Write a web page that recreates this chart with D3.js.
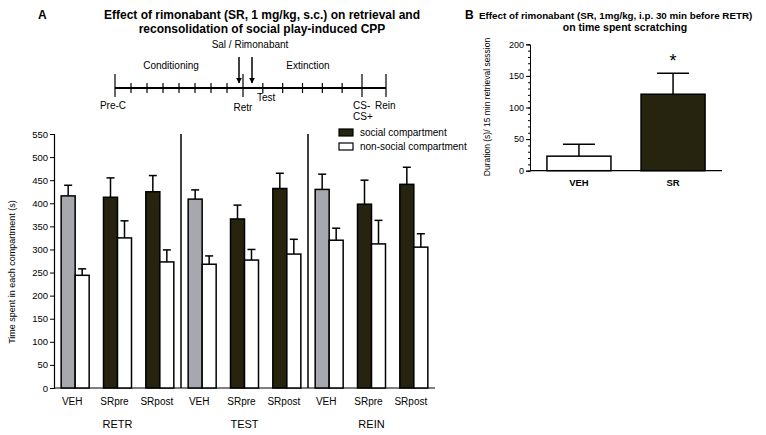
<!DOCTYPE html>
<html>
<head>
<meta charset="utf-8">
<script src="https://cdn.jsdelivr.net/npm/d3@7"></script>
<style>
  body { margin: 0; background: #fff; overflow: hidden; }
  svg { font-family: "Liberation Sans", Arial, sans-serif; }
</style>
</head>
<body>
<svg id="chart" width="766" height="435"></svg>
<script>
// panel A data
const groups = ["VEH", "SRpre", "SRpost", "VEH", "SRpre", "SRpost", "VEH", "SRpre", "SRpost"];
const phases = ["RETR", "TEST", "REIN"];
const social = [416, 413, 425, 409, 366, 432, 430, 398, 441];
const socialErr = [439, 455, 460, 429, 396, 465, 463, 450, 478];
const nonSocial = [244, 325, 273, 268, 277, 290, 320, 312, 305];
const nonSocialErr = [258, 362, 299, 286, 300, 322, 346, 363, 334];
const yTicksA = d3.range(0, 551, 50);

// panel B data
const scratchGroups = ["VEH", "SR"];
const scratch = [23, 121];
const scratchErr = [42, 154];

const gray = "#a7a7ae";
const dark = "#26240f";

const svg = d3.select("#chart");
const fs = "Liberation Sans, Arial, sans-serif";

// ---------- panel A ----------
svg.append("text").attr("x", 38).attr("y", 19).attr("font-size", 12).attr("font-weight", "bold").text("A");
svg.append("text").attr("x", 262).attr("y", 19).attr("text-anchor", "middle")
    .attr("font-size", 12).attr("font-weight", "bold")
    .text("Effect of rimonabant (SR, 1 mg/kg, s.c.) on retrieval and");
svg.append("text").attr("x", 262).attr("y", 33).attr("text-anchor", "middle")
    .attr("font-size", 12).attr("font-weight", "bold")
    .text("reconsolidation of social play-induced CPP");

// timeline
const tl = d3.scaleLinear().domain([0, 8, 14, 15]).range([115, 243, 362, 386]);
const tlY = 88;
const major = [0, 8, 14, 15];
const minor = [1, 2, 3, 4, 5, 6, 7, 9, 10, 11, 12, 13];
svg.append("line").attr("x1", tl(0)).attr("x2", tl(15)).attr("y1", tlY).attr("y2", tlY)
    .attr("stroke", "#000").attr("stroke-width", 2);
svg.selectAll(".maj").data(major).enter().append("line")
    .attr("x1", d => tl(d)).attr("x2", d => tl(d)).attr("y1", tlY - 14).attr("y2", tlY + 9)
    .attr("stroke", "#000").attr("stroke-width", 1.2);
svg.selectAll(".min").data(minor).enter().append("line")
    .attr("x1", d => tl(d)).attr("x2", d => tl(d)).attr("y1", tlY - 5).attr("y2", tlY + 5)
    .attr("stroke", "#000").attr("stroke-width", 1.2);

const defs = svg.append("defs");
defs.append("marker").attr("id", "ah").attr("viewBox", "0 0 10 10").attr("refX", 9).attr("refY", 5)
    .attr("markerWidth", 4).attr("markerHeight", 4).attr("orient", "auto")
    .append("path").attr("d", "M0,0L10,5L0,10Z").attr("fill", "#000");
[tl(8) - 4, tl(8) + 9].forEach(x => {
    svg.append("line").attr("x1", x).attr("x2", x).attr("y1", 57).attr("y2", 83)
        .attr("stroke", "#000").attr("stroke-width", 1.5).attr("marker-end", "url(#ah)");
});

const tlText = [
    { t: "Sal / Rimonabant", x: 250, y: 48, a: "middle" },
    { t: "Conditioning", x: 171, y: 69, a: "middle" },
    { t: "Extinction", x: 308, y: 69, a: "middle" },
    { t: "Pre-C", x: 113, y: 109, a: "middle" },
    { t: "Retr", x: 243, y: 111, a: "middle" },
    { t: "Test", x: 257, y: 101, a: "start" },
    { t: "CS-", x: 353, y: 109, a: "start" },
    { t: "CS+", x: 353, y: 120, a: "start" },
    { t: "Rein", x: 375, y: 109, a: "start" }
];
svg.selectAll(".tlt").data(tlText).enter().append("text")
    .attr("x", d => d.x).attr("y", d => d.y).attr("text-anchor", d => d.a)
    .attr("font-size", 10).text(d => d.t);

// bar chart
const x = d3.scaleBand().domain(d3.range(groups.length)).range([54, 435]);
const y = d3.scaleLinear().domain([0, 550]).range([388, 134]);
const bw = 14;

const yAxis = svg.append("g").attr("transform", "translate(54,0)")
    .call(d3.axisLeft(y).tickValues(yTicksA).tickSize(4).tickPadding(2));
yAxis.selectAll("text").attr("font-size", 9.5).attr("font-family", fs);
yAxis.select(".domain").attr("stroke-width", 1.2);

svg.append("line").attr("x1", 54).attr("x2", 435).attr("y1", y(0)).attr("y2", y(0))
    .attr("stroke", "#000").attr("stroke-width", 1.2);

// separators
[3, 6].forEach(i => {
    svg.append("line").attr("x1", x(i)).attr("x2", x(i)).attr("y1", y(550)).attr("y2", y(0))
        .attr("stroke", "#000").attr("stroke-width", 1.5);
});

function drawBars(vals, errs, offset, colorFn) {
    const g = svg.append("g");
    g.selectAll(".err").data(vals).enter().append("line")
        .attr("x1", (d, i) => x(i) + x.bandwidth() / 2 + offset + bw / 2)
        .attr("x2", (d, i) => x(i) + x.bandwidth() / 2 + offset + bw / 2)
        .attr("y1", d => y(d)).attr("y2", (d, i) => y(errs[i]))
        .attr("stroke", "#000").attr("stroke-width", 1.5);
    g.selectAll(".cap").data(vals).enter().append("line")
        .attr("x1", (d, i) => x(i) + x.bandwidth() / 2 + offset + bw / 2 - 4)
        .attr("x2", (d, i) => x(i) + x.bandwidth() / 2 + offset + bw / 2 + 4)
        .attr("y1", (d, i) => y(errs[i])).attr("y2", (d, i) => y(errs[i]))
        .attr("stroke", "#000").attr("stroke-width", 1.5);
    g.selectAll("rect").data(vals).enter().append("rect")
        .attr("x", (d, i) => x(i) + x.bandwidth() / 2 + offset)
        .attr("y", d => y(d))
        .attr("width", bw)
        .attr("height", d => y(0) - y(d))
        .attr("fill", (d, i) => colorFn(i))
        .attr("stroke", "#000").attr("stroke-width", 1.5);
}
drawBars(social, socialErr, -bw, i => (i % 3 === 0 ? gray : dark));
drawBars(nonSocial, nonSocialErr, 0, () => "#fff");

svg.selectAll(".glab").data(groups).enter().append("text")
    .attr("x", (d, i) => x(i) + x.bandwidth() / 2 - 3)
    .attr("y", 405).attr("text-anchor", "middle").attr("font-size", 10).text(d => d);
svg.selectAll(".plab").data(phases).enter().append("text")
    .attr("x", (d, i) => x(i * 3 + 1) + x.bandwidth() / 2)
    .attr("y", 428).attr("text-anchor", "middle").attr("font-size", 11).text(d => d);

svg.append("text").attr("transform", "translate(15,272) rotate(-90)").attr("text-anchor", "middle")
    .attr("font-size", 9).text("Time spent in each compartment (s)");

// legend
const legend = [{ t: "social compartment", c: dark, y: 129 }, { t: "non-social compartment", c: "#fff", y: 143 }];
svg.selectAll(".leg").data(legend).enter().append("rect")
    .attr("x", 339).attr("y", d => d.y).attr("width", 14).attr("height", 7)
    .attr("fill", d => d.c).attr("stroke", "#000").attr("stroke-width", 1.2);
svg.selectAll(".legt").data(legend).enter().append("text")
    .attr("x", 360).attr("y", d => d.y + 7).attr("font-size", 10).text(d => d.t);

// ---------- panel B ----------
svg.append("text").attr("x", 465).attr("y", 19).attr("font-size", 12).attr("font-weight", "bold").text("B");
svg.append("text").attr("x", 479).attr("y", 19).attr("font-size", 9.8).attr("font-weight", "bold")
    .text("Effect of rimonabant (SR, 1mg/kg, i.p. 30 min before RETR)");
svg.append("text").attr("x", 625).attr("y", 31).attr("text-anchor", "middle").attr("font-size", 10.5)
    .attr("font-weight", "bold").text("on time spent scratching");

const xb = d3.scalePoint().domain(scratchGroups).range([530, 722]).padding(0.52);
const yb = d3.scaleLinear().domain([0, 200]).range([170.7, 44.3]);
const bwb = 64;

const ybAxis = svg.append("g").attr("transform", "translate(530,0)")
    .call(d3.axisLeft(yb).tickValues([0, 50, 100, 150, 200]).tickSize(4).tickPadding(2));
ybAxis.selectAll("text").attr("font-size", 9).attr("font-family", fs);
svg.append("g").attr("transform", "translate(530,0)")
    .call(d3.axisLeft(yb).tickValues(d3.range(0, 201, 10)).tickSize(2).tickFormat(""))
    .select(".domain").remove();
svg.append("line").attr("x1", 530).attr("x2", 722).attr("y1", yb(0)).attr("y2", yb(0))
    .attr("stroke", "#000").attr("stroke-width", 1.2);

svg.selectAll(".berr").data(scratchGroups).enter().append("line")
    .attr("x1", d => xb(d)).attr("x2", d => xb(d))
    .attr("y1", (d, i) => yb(scratch[i])).attr("y2", (d, i) => yb(scratchErr[i]))
    .attr("stroke", "#000").attr("stroke-width", 1.5);
svg.selectAll(".bcap").data(scratchGroups).enter().append("line")
    .attr("x1", d => xb(d) - 16).attr("x2", d => xb(d) + 16)
    .attr("y1", (d, i) => yb(scratchErr[i])).attr("y2", (d, i) => yb(scratchErr[i]))
    .attr("stroke", "#000").attr("stroke-width", 1.5);
svg.selectAll(".bbar").data(scratchGroups).enter().append("rect")
    .attr("x", d => xb(d) - bwb / 2).attr("y", (d, i) => yb(scratch[i]))
    .attr("width", bwb).attr("height", (d, i) => yb(0) - yb(scratch[i]))
    .attr("fill", (d, i) => (i === 0 ? "#fff" : dark))
    .attr("stroke", "#000").attr("stroke-width", 1.5);
svg.selectAll(".blab").data(scratchGroups).enter().append("text")
    .attr("x", d => xb(d)).attr("y", 186).attr("text-anchor", "middle")
    .attr("font-size", 9.5).attr("font-weight", "bold").text(d => d);
svg.append("text").attr("x", xb("SR")).attr("y", 67).attr("text-anchor", "middle")
    .attr("font-size", 18).text("*");
svg.append("text").attr("transform", "translate(490,107) rotate(-90)").attr("text-anchor", "middle")
    .attr("font-size", 8.5).text("Duration (s)/ 15 min retrieval session");
</script>
</body>
</html>
